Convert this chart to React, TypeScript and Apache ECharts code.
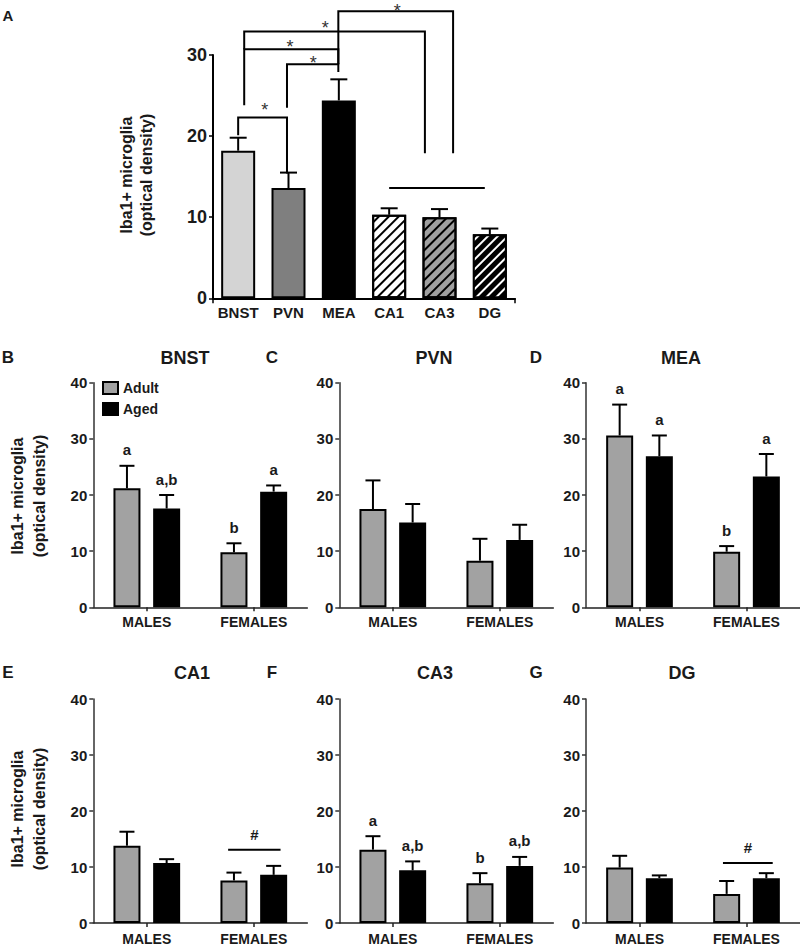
import React, { useEffect, useRef } from 'react';
import * as echarts from 'echarts';

// ---------- DATA ----------
const regionCats = ['BNST', 'PVN', 'MEA', 'CA1', 'CA3', 'DG'];
const regionMeans = [18.2, 13.6, 24.4, 10.3, 10.0, 7.9];
const regionErrTops = [19.8, 15.5, 27.0, 11.1, 11.0, 8.6];
// significance brackets in panel A: [xLeft, yLeftBottom, xRight, yRightBottom, yTop]
const sigBrackets = [
  [0.0, 20.1, 0.97, 15.4, 22.3],
  [0.97, 23.5, 1.99, 27.9, 28.85],
  [0.12, 23.8, 1.99, 28.85, 30.7],
  [0.12, 30.7, 3.71, 17.9, 32.9],
  [1.99, 28.85, 4.27, 17.9, 35.4],
];
const sigStars = [
  [0.53, 23.7],
  [1.49, 29.5],
  [1.03, 31.5],
  [1.73, 33.8],
  [3.16, 35.9],
];
const hippoGroupLine = [3.0, 4.9, 13.6];

const sexCats = ['MALES', 'FEMALES'];
const legendNames = ['Adult', 'Aged'];

const bnstAdult = [21.2, 9.8];
const bnstAdultErr = [25.2, 11.4];
const bnstAged = [17.6, 20.6];
const bnstAgedErr = [20.0, 21.7];
const bnstAdultLetters = ['a', 'b'];
const bnstAgedLetters = ['a,b', 'a'];

const pvnAdult = [17.5, 8.3];
const pvnAdultErr = [22.6, 12.2];
const pvnAged = [15.1, 12.0];
const pvnAgedErr = [18.4, 14.7];

const meaAdult = [30.6, 9.9];
const meaAdultErr = [36.1, 10.9];
const meaAged = [26.9, 23.3];
const meaAgedErr = [30.6, 27.3];
const meaAdultLetters = ['a', 'b'];
const meaAgedLetters = ['a', 'a'];

const ca1Adult = [13.8, 7.6];
const ca1AdultErr = [16.3, 9.0];
const ca1Aged = [10.7, 8.6];
const ca1AgedErr = [11.4, 10.2];
// [xStart, xEnd, yLine, yLabel]
const ca1Hash = [0.76, 1.25, 13.1, 15.75];

const ca3Adult = [13.1, 7.1];
const ca3AdultErr = [15.5, 8.9];
const ca3Aged = [9.4, 10.2];
const ca3AgedErr = [11.0, 11.8];
const ca3AdultLetters = ['a', 'b'];
const ca3AgedLetters = ['a,b', 'a,b'];

const dgAdult = [9.9, 5.2];
const dgAdultErr = [12.0, 7.5];
const dgAged = [8.0, 8.0];
const dgAgedErr = [8.5, 8.9];
const dgHash = [0.78, 1.245, 10.7, 13.55];

const yLabelText = 'Iba1+ microglia\n(optical density)';

// ---------- STYLE ----------
const FONT = '"Liberation Sans", Arial, Helvetica, sans-serif';
const TXT = '#1a1a1a';
const ADULT_COLOR = '#a2a2a2';
const AGED_COLOR = '#000000';
const BAR_W = 27;
const BAR_GAP = 0.47;
const GROUP_OFFSET = (BAR_W + BAR_W * BAR_GAP) / 2;

const gridsLayout = [
  { left: 213, top: 55, width: 302, height: 243.3 },
  { left: 93.3, top: 382.7, width: 214, height: 224.6 },
  { left: 339.3, top: 382.7, width: 214, height: 224.6 },
  { left: 586, top: 382.7, width: 214, height: 224.6 },
  { left: 93.3, top: 699, width: 214, height: 224.3 },
  { left: 339.3, top: 699, width: 214, height: 224.3 },
  { left: 586, top: 699, width: 214, height: 224.3 },
];

const hatch = (color: string) => ({
  symbol: 'rect',
  symbolSize: 1,
  dashArrayX: [1, 0],
  dashArrayY: [2, 5],
  rotation: -Math.PI / 4,
  color,
});

const regionStyles = [
  { color: '#d4d4d4' },
  { color: '#7f7f7f' },
  { color: '#000000' },
  { color: '#ffffff', decal: hatch('#000000') },
  { color: '#a0a0a0', decal: hatch('#000000') },
  { color: '#000000', decal: hatch('#ffffff') },
];

const panels = [
  { title: 'BNST', letter: 'B', adult: bnstAdult, adultErr: bnstAdultErr, aged: bnstAged, agedErr: bnstAgedErr, adultLetters: bnstAdultLetters, agedLetters: bnstAgedLetters, hash: null as number[] | null },
  { title: 'PVN', letter: 'C', adult: pvnAdult, adultErr: pvnAdultErr, aged: pvnAged, agedErr: pvnAgedErr, adultLetters: null as string[] | null, agedLetters: null as string[] | null, hash: null },
  { title: 'MEA', letter: 'D', adult: meaAdult, adultErr: meaAdultErr, aged: meaAged, agedErr: meaAgedErr, adultLetters: meaAdultLetters, agedLetters: meaAgedLetters, hash: null },
  { title: 'CA1', letter: 'E', adult: ca1Adult, adultErr: ca1AdultErr, aged: ca1Aged, agedErr: ca1AgedErr, adultLetters: null, agedLetters: null, hash: ca1Hash },
  { title: 'CA3', letter: 'F', adult: ca3Adult, adultErr: ca3AdultErr, aged: ca3Aged, agedErr: ca3AgedErr, adultLetters: ca3AdultLetters, agedLetters: ca3AgedLetters, hash: null },
  { title: 'DG', letter: 'G', adult: dgAdult, adultErr: dgAdultErr, aged: dgAged, agedErr: dgAgedErr, adultLetters: null, agedLetters: null, hash: dgHash },
];

function errSeries(g: number, means: number[], errs: number[], offset: number, capHalf: number, letters: string[] | null) {
  return {
    type: 'custom',
    xAxisIndex: 2 * g,
    yAxisIndex: g,
    z: 5,
    clip: false,
    data: means.map((m, i) => [i, m, errs[i]]),
    renderItem: (params: any, api: any) => {
      const i = api.value(0);
      const p0 = api.coord([i, api.value(1)]);
      const p1 = api.coord([i, api.value(2)]);
      const x = p0[0] + offset;
      const children: any[] = [
        { type: 'line', shape: { x1: x, y1: p0[1], x2: x, y2: p1[1] }, style: { stroke: '#000', lineWidth: 2 } },
        { type: 'line', shape: { x1: x - capHalf, y1: p1[1], x2: x + capHalf, y2: p1[1] }, style: { stroke: '#000', lineWidth: 2 } },
      ];
      if (letters && letters[params.dataIndex]) {
        children.push({
          type: 'text',
          x,
          y: p1[1] - 16,
          style: { text: letters[params.dataIndex], font: `bold 15px ${FONT}`, fill: TXT, align: 'center', verticalAlign: 'middle', textAlign: 'center', textVerticalAlign: 'middle' },
        });
      }
      return { type: 'group', children };
    },
  };
}

function buildOption() {
  const grid = gridsLayout.map((l) => ({ ...l, containLabel: false }));
  const xAxis: any[] = [];
  const yAxis: any[] = [];
  const series: any[] = [];

  // Panel A axes
  xAxis.push({
    type: 'category',
    gridIndex: 0,
    data: regionCats,
    axisLine: { onZero: false, lineStyle: { color: '#000', width: 2 } },
    axisTick: { show: true, interval: (i: number) => i === 3, length: 5, lineStyle: { color: '#000', width: 1.5 } },
    axisLabel: { color: TXT, fontWeight: 'bold', fontSize: 15, fontFamily: FONT, margin: 7, interval: 0 },
  });
  xAxis.push({ type: 'value', gridIndex: 0, min: -0.5, max: 5.5, show: false });
  yAxis.push({
    type: 'value',
    gridIndex: 0,
    min: 0,
    max: 30,
    interval: 10,
    splitLine: { show: false },
    axisLine: { show: true, onZero: false, lineStyle: { color: '#000', width: 2 } },
    axisTick: { show: true, length: 4, lineStyle: { color: '#000', width: 1.5 } },
    axisLabel: { color: TXT, fontWeight: 'bold', fontSize: 18, fontFamily: FONT, margin: 6 },
  });

  series.push({
    type: 'bar',
    xAxisIndex: 0,
    yAxisIndex: 0,
    barWidth: 34,
    data: regionMeans.map((v, i) => ({ value: v, itemStyle: { ...regionStyles[i], borderColor: '#000', borderWidth: 2 } })),
  });
  series.push(errSeries(0, regionMeans, regionErrTops, 0, 8.5, null));
  series.push({
    type: 'custom',
    xAxisIndex: 1,
    yAxisIndex: 0,
    clip: false,
    z: 6,
    data: sigBrackets,
    renderItem: (params: any, api: any) => {
      const a = api.coord([api.value(0), api.value(1)]);
      const b = api.coord([api.value(0), api.value(4)]);
      const c = api.coord([api.value(2), api.value(4)]);
      const d = api.coord([api.value(2), api.value(3)]);
      return { type: 'polyline', shape: { points: [a, b, c, d] }, style: { stroke: '#000', lineWidth: 2, fill: 'none' } };
    },
  });
  series.push({
    type: 'custom',
    xAxisIndex: 1,
    yAxisIndex: 0,
    clip: false,
    z: 6,
    data: sigStars,
    renderItem: (params: any, api: any) => {
      const p = api.coord([api.value(0), api.value(1)]);
      return { type: 'text', x: p[0], y: p[1] + 4, style: { text: '*', font: `18px ${FONT}`, fill: '#333', align: 'center', verticalAlign: 'middle', textAlign: 'center', textVerticalAlign: 'middle' } };
    },
  });
  series.push({
    type: 'custom',
    xAxisIndex: 1,
    yAxisIndex: 0,
    clip: false,
    z: 6,
    data: [hippoGroupLine],
    renderItem: (params: any, api: any) => {
      const a = api.coord([api.value(0), api.value(2)]);
      const b = api.coord([api.value(1), api.value(2)]);
      return { type: 'line', shape: { x1: a[0], y1: a[1], x2: b[0], y2: b[1] }, style: { stroke: '#000', lineWidth: 2 } };
    },
  });

  panels.forEach((p, k) => {
    const g = k + 1;
    const bottomRow = g >= 4;
    xAxis.push({
      type: 'category',
      gridIndex: g,
      data: sexCats,
      axisLine: { onZero: false, lineStyle: { color: '#222', width: 1.6 } },
      axisTick: { show: true, alignWithLabel: true, length: 4, lineStyle: { color: '#222', width: 1.5 } },
      axisLabel: { color: TXT, fontWeight: 'bold', fontSize: 14, fontFamily: FONT, margin: bottomRow ? 9 : 8 },
    });
    xAxis.push({ type: 'value', gridIndex: g, min: -0.5, max: 1.5, show: false });
    yAxis.push({
      type: 'value',
      gridIndex: g,
      min: 0,
      max: 40,
      interval: 10,
      splitLine: { show: false },
      axisLine: { show: true, onZero: false, lineStyle: { color: '#333', width: 1.5 } },
      axisTick: { show: true, length: 4, lineStyle: { color: '#333', width: 1.5 } },
      axisLabel: { color: TXT, fontWeight: 'bold', fontSize: 15, fontFamily: FONT, margin: 6 },
    });
    series.push({
      name: legendNames[0],
      type: 'bar',
      xAxisIndex: 2 * g,
      yAxisIndex: g,
      barWidth: BAR_W,
      barGap: `${BAR_GAP * 100}%`,
      itemStyle: { color: ADULT_COLOR, borderColor: '#000', borderWidth: 2 },
      data: p.adult,
    });
    series.push({
      name: legendNames[1],
      type: 'bar',
      xAxisIndex: 2 * g,
      yAxisIndex: g,
      barWidth: BAR_W,
      barGap: `${BAR_GAP * 100}%`,
      itemStyle: { color: AGED_COLOR, borderColor: '#000', borderWidth: 2 },
      data: p.aged,
    });
    series.push(errSeries(g, p.adult, p.adultErr, -GROUP_OFFSET, 7.5, p.adultLetters));
    series.push(errSeries(g, p.aged, p.agedErr, GROUP_OFFSET, 7.5, p.agedLetters));
    if (p.hash) {
      series.push({
        type: 'custom',
        xAxisIndex: 2 * g + 1,
        yAxisIndex: g,
        clip: false,
        z: 6,
        data: [p.hash],
        renderItem: (params: any, api: any) => {
          const a = api.coord([api.value(0), api.value(2)]);
          const b = api.coord([api.value(1), api.value(2)]);
          const t = api.coord([(api.value(0) + api.value(1)) / 2, api.value(3)]);
          return {
            type: 'group',
            children: [
              { type: 'line', shape: { x1: a[0], y1: a[1], x2: b[0], y2: b[1] }, style: { stroke: '#000', lineWidth: 2 } },
              { type: 'text', x: t[0], y: t[1], style: { text: '#', font: `bold 15px ${FONT}`, fill: TXT, align: 'center', verticalAlign: 'middle', textAlign: 'center', textVerticalAlign: 'middle' } },
            ],
          };
        },
      });
    }
  });

  const txt = (text: string, x: number, y: number, size: number, extra: any = {}) => ({
    type: 'text',
    x,
    y,
    rotation: extra.rotation || 0,
    style: { text, font: `bold ${size}px ${FONT}`, fill: TXT, align: 'center', verticalAlign: 'middle', textAlign: 'center', textVerticalAlign: 'middle', lineHeight: extra.lh || size + 4 },
  });

  const graphic: any[] = [
    txt('A', 8, 15, 15),
    txt(yLabelText, 136, 175, 16, { rotation: Math.PI / 2, lh: 20 }),
    txt(yLabelText, 28, 496, 16, { rotation: Math.PI / 2, lh: 22 }),
    txt(yLabelText, 28, 809, 16, { rotation: Math.PI / 2, lh: 22 }),
  ];
  const titleX = [185, 434, 681, 192, 435, 682];
  const letterX = [8, 272, 536, 8, 272, 536];
  panels.forEach((p, k) => {
    const y = k < 3 ? 358 : 673;
    graphic.push(txt(p.title, titleX[k], y, 18));
    graphic.push(txt(p.letter, letterX[k], y - 1, 17));
  });

  return {
    animation: false,
    backgroundColor: '#ffffff',
    textStyle: { fontFamily: FONT },
    legend: {
      data: legendNames,
      left: 102,
      top: 381,
      orient: 'vertical',
      padding: 0,
      itemWidth: 15,
      itemHeight: 12,
      itemGap: 7,
      icon: 'rect',
      selectedMode: false,
      textStyle: { color: TXT, fontWeight: 'bold', fontSize: 14, fontFamily: FONT },
    },
    grid,
    xAxis,
    yAxis,
    series,
    graphic,
  };
}

export default function App() {
  const ref = useRef<HTMLDivElement>(null);
  useEffect(() => {
    if (!ref.current) return;
    const chart = echarts.init(ref.current, undefined, { renderer: 'svg' });
    chart.setOption(buildOption() as any);
    return () => chart.dispose();
  }, []);
  return <div ref={ref} style={{ position: 'absolute', left: 0, top: 0, width: 800, height: 946, background: '#fff' }} />;
}
